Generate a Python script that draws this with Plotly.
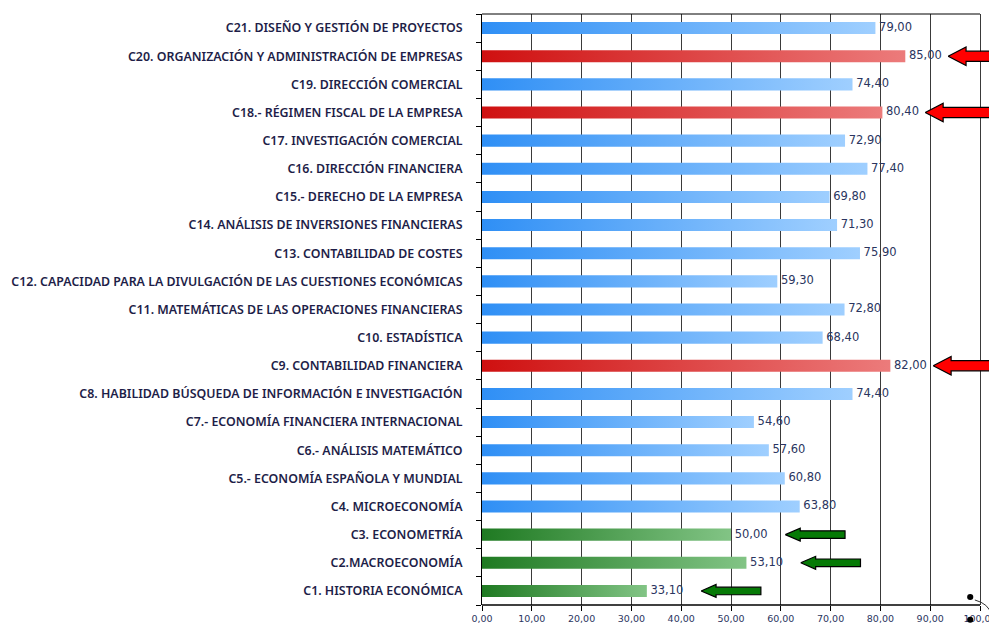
import plotly.graph_objects as go

# ---------------- data ----------------
categories = [
    "C1. HISTORIA ECONÓMICA",
    "C2.MACROECONOMÍA",
    "C3. ECONOMETRÍA",
    "C4. MICROECONOMÍA",
    "C5.- ECONOMÍA ESPAÑOLA Y MUNDIAL",
    "C6.- ANÁLISIS MATEMÁTICO",
    "C7.- ECONOMÍA FINANCIERA INTERNACIONAL",
    "C8. HABILIDAD BÚSQUEDA DE INFORMACIÓN E INVESTIGACIÓN",
    "C9. CONTABILIDAD FINANCIERA",
    "C10. ESTADÍSTICA",
    "C11. MATEMÁTICAS DE LAS OPERACIONES FINANCIERAS",
    "C12. CAPACIDAD PARA LA DIVULGACIÓN DE LAS CUESTIONES ECONÓMICAS",
    "C13. CONTABILIDAD DE COSTES",
    "C14. ANÁLISIS DE INVERSIONES FINANCIERAS",
    "C15.- DERECHO DE LA EMPRESA",
    "C16. DIRECCIÓN FINANCIERA",
    "C17. INVESTIGACIÓN COMERCIAL",
    "C18.- RÉGIMEN FISCAL DE LA EMPRESA",
    "C19. DIRECCIÓN COMERCIAL",
    "C20. ORGANIZACIÓN Y ADMINISTRACIÓN DE EMPRESAS",
    "C21. DISEÑO Y GESTIÓN DE PROYECTOS",
]
values = [33.1, 53.1, 50.0, 63.8, 60.8, 57.6, 54.6, 74.4, 82.0, 68.4, 72.8,
          59.3, 75.9, 71.3, 69.8, 77.4, 72.9, 80.4, 74.4, 85.0, 79.0]
# highlight group per category: "low" (green), "high" (red), "normal" (blue)
groups = ["low", "low", "low", "normal", "normal", "normal", "normal", "normal",
          "high", "normal", "normal", "normal", "normal", "normal", "normal",
          "normal", "normal", "high", "normal", "high", "normal"]
x_ticks = [0, 10, 20, 30, 40, 50, 60, 70, 80, 90, 100]
x_tick_labels = ["0,00", "10,00", "20,00", "30,00", "40,00", "50,00",
                 "60,00", "70,00", "80,00", "90,00", "100,00"]

# ---------------- styles ----------------
gradients = {
    "normal": ["#2f8ff5", "#9fcfff"],
    "high": ["#cf1010", "#ec7b7b"],
    "low": ["#1f7a22", "#82c485"],
}
arrow_style = {
    # tip offset, head length, head half-height, shaft half-height, length, colour
    "high": dict(off=8.6, hl=3.6, hh=0.33, sh=0.18, ln=30.0, color="#ff0000"),
    "low": dict(off=10.9, hl=3.0, hh=0.23, sh=0.135, ln=12.0, color="#067a06"),
}
BAR_HALF = 0.215
W, H = 989, 622          # page body has an 8px margin inside the 997x630 window
ML, MT, MB = 474, 6, 25
PX_PER_UNIT = 4.98
X_MAX = (W - ML) / PX_PER_UNIT  # plot area reaches the right edge; 100 sits inside

LABEL_FONT = dict(family="Noto Sans", size=12.4, color="#1e1e48", weight=600)

fig = go.Figure()

# bars drawn as gradient filled rectangles
for i, (v, g) in enumerate(zip(values, groups)):
    c0, c1 = gradients[g]
    fig.add_trace(go.Scatter(
        x=[0, v, v, 0, 0],
        y=[i - BAR_HALF, i - BAR_HALF, i + BAR_HALF, i + BAR_HALF, i - BAR_HALF],
        mode="lines", line=dict(width=0), fill="toself",
        fillgradient=dict(type="horizontal", colorscale=[[0, c0], [1, c1]],
                          start=0, stop=v),
        hoverinfo="skip", showlegend=False,
    ))

# value labels
fig.add_trace(go.Scatter(
    x=values, y=list(range(len(values))), mode="text",
    text=["\u00a0" + f"{v:.2f}".replace(".", ",") for v in values],
    textposition="middle right",
    textfont=dict(family="DejaVu Sans", size=11.5, color="#2a3560"),
    hoverinfo="skip", showlegend=False, cliponaxis=False,
))

# block arrows for the highlighted categories
for i, (v, g) in enumerate(zip(values, groups)):
    if g not in arrow_style:
        continue
    s = arrow_style[g]
    t = v + s["off"]
    xs = [t, t + s["hl"], t + s["hl"], t + s["ln"], t + s["ln"], t + s["hl"], t + s["hl"], t]
    ys = [i, i + s["hh"], i + s["sh"], i + s["sh"], i - s["sh"], i - s["sh"], i - s["hh"], i]
    fig.add_trace(go.Scatter(
        x=xs, y=ys, mode="lines", fill="toself", fillcolor=s["color"],
        line=dict(color="#000000", width=1.2), hoverinfo="skip", showlegend=False,
    ))

n = len(categories)
fig.update_layout(
    width=W, height=H,
    margin=dict(l=ML, r=0, t=MT, b=MB),
    paper_bgcolor="white", plot_bgcolor="white",
    showlegend=False,
    xaxis=dict(
        range=[0, X_MAX], tickmode="array", tickvals=x_ticks, ticktext=x_tick_labels,
        showgrid=True, gridcolor="#3a3a3a", gridwidth=1, zeroline=False,
        showline=False, ticks="outside", ticklen=5, tickcolor="#000000",
        tickfont=dict(family="DejaVu Sans", size=9.5, color="#2a3560"),
        fixedrange=True,
    ),
    yaxis=dict(
        range=[-0.5, n - 0.5], tickmode="array", tickvals=list(range(n)),
        ticktext=categories, showgrid=False, zeroline=False,
        showline=True, linecolor="#000000", linewidth=1,
        ticks="outside", ticklen=16, tickcolor="rgba(0,0,0,0)",
        tickfont=LABEL_FONT,
        minor=dict(tickmode="array", tickvals=[k + 0.5 for k in range(-1, n)],
                   ticks="outside", ticklen=5, tickcolor="#000000", showgrid=False),
        fixedrange=True,
    ),
    shapes=[
        # top frame and bottom axis line, ending at 100
        dict(type="line", xref="x", yref="paper", x0=0, x1=100, y0=1, y1=1,
             line=dict(color="#000000", width=1)),
        dict(type="line", xref="x", yref="paper", x0=-1, x1=100, y0=0, y1=0,
             line=dict(color="#000000", width=1.5)),
        # small connector mark at the bottom-right corner
        dict(type="circle", xref="paper", yref="paper", x0=0.942, x1=0.954,
             y0=0.0085, y1=0.0185, fillcolor="#000000", line=dict(width=0)),
        dict(type="circle", xref="paper", yref="paper", x0=0.942, x1=0.954,
             y0=-0.030, y1=-0.020, fillcolor="#000000", line=dict(width=0)),
        dict(type="path", xref="paper", yref="paper",
             path="M 0.957 0.0085 Q 0.984 0.002 0.988 -0.015 L 1.0 -0.045",
             line=dict(color="#333333", width=1)),
    ],
)

fig.write_html("out.html")
